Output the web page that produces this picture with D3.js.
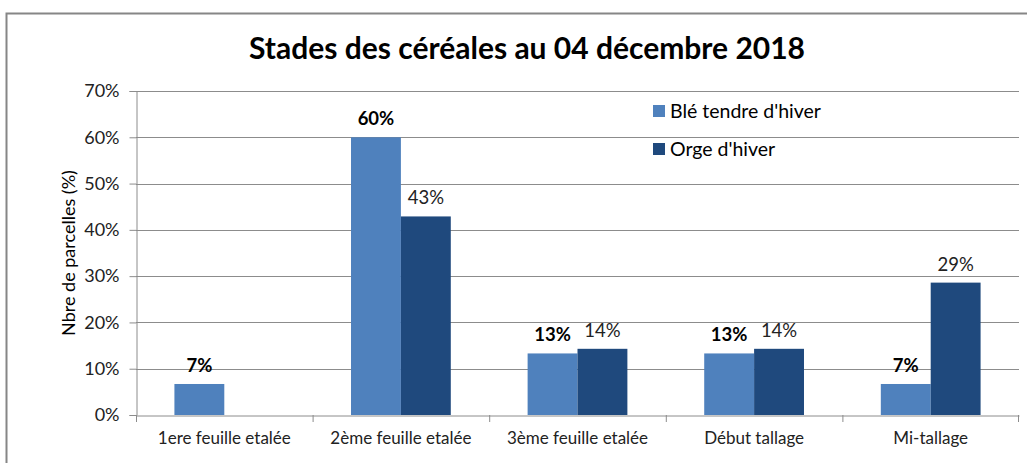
<!DOCTYPE html>
<html>
<head>
<meta charset="utf-8">
<script src="https://cdn.jsdelivr.net/npm/d3@7"></script>
<style>
  body { margin: 0; background: #fff; }
  svg { display: block; font-family: Lato, "Open Sans", sans-serif; }
</style>
</head>
<body>
<div id="chart"></div>
<script>
// chart values
const categories = ['1ere feuille etalée', '2ème feuille etalée', '3ème feuille etalée', 'Début tallage', 'Mi-tallage'];
const seriesNames = ['Blé tendre d\'hiver', 'Orge d\'hiver'];
const bleValues = [6.7, 60, 13.3, 13.3, 6.7];
const orgeValues = [0, 42.9, 14.3, 14.3, 28.6];
const yTicks = [0, 10, 20, 30, 40, 50, 60, 70];
const colors = ['#4f81bd', '#1f497d'];

const width = 1027, height = 463;
const margin = { top: 91, right: 8, bottom: 48, left: 136 };

const svg = d3.select('#chart').append('svg')
    .attr('width', width)
    .attr('height', height);

// outer chart border (cut at the right and bottom like the screenshot)
svg.append('rect')
    .attr('x', 6.5).attr('y', 13.5)
    .attr('width', 1040).attr('height', 470)
    .attr('fill', 'none')
    .attr('stroke', '#868686')
    .attr('stroke-width', 2);

const x = d3.scaleBand()
    .domain(categories)
    .range([margin.left, width - margin.right]);

const x1 = d3.scaleBand()
    .domain(seriesNames)
    .range([0, x.bandwidth()])
    .paddingOuter(0.77);

const y = d3.scaleLinear()
    .domain([0, 70])
    .range([height - margin.bottom, margin.top]);

// gridlines
svg.append('g')
    .selectAll('line')
    .data(yTicks.filter(d => d > 0))
    .enter().append('line')
    .attr('x1', margin.left).attr('x2', width - margin.right)
    .attr('y1', d => Math.round(y(d)) + 0.5).attr('y2', d => Math.round(y(d)) + 0.5)
    .attr('stroke', '#8c8c8c')
    .attr('stroke-width', 1);

// y axis
const yAxis = svg.append('g')
    .attr('transform', `translate(${margin.left + 0.5},0)`)
    .call(d3.axisLeft(y).tickValues(yTicks).tickFormat(d => d + '%').tickSize(7).tickPadding(10));
yAxis.select('.domain').attr('stroke', '#8c8c8c');
yAxis.selectAll('.tick line').attr('stroke', '#8c8c8c');
yAxis.selectAll('text')
    .attr('font-size', '18px')
    .attr('font-family', 'Lato, "Open Sans", sans-serif')
    .attr('fill', '#222');

// bars
const series = [bleValues, orgeValues];
const groups = svg.append('g')
    .selectAll('g')
    .data(categories)
    .enter().append('g')
    .attr('transform', d => `translate(${x(d)},0)`);

groups.selectAll('rect')
    .data((d, i) => seriesNames.map((s, k) => ({ s, k, v: series[k][i] })))
    .enter().append('rect')
    .filter(d => d.v > 0)
    .attr('x', d => x1(d.s))
    .attr('y', d => y(d.v))
    .attr('width', x1.bandwidth())
    .attr('height', d => y(0) - y(d.v))
    .attr('fill', d => colors[d.k]);

// data labels
groups.selectAll('text')
    .data((d, i) => seriesNames.map((s, k) => ({ s, k, v: series[k][i] })).filter(d => d.v > 0))
    .enter().append('text')
    .attr('x', d => x1(d.s) + x1.bandwidth() / 2)
    .attr('y', d => y(d.v) - 12)
    .attr('text-anchor', 'middle')
    .attr('font-size', '18.5px')
    .attr('font-weight', d => d.k === 0 ? 'bold' : 'normal')
    .attr('fill', d => d.k === 0 ? '#000' : '#222')
    .text(d => Math.round(d.v) + '%');

// x axis
const xAxis = svg.append('g')
    .attr('transform', `translate(0,${y(0) + 0.5})`)
    .call(d3.axisBottom(x).tickSize(0).tickPadding(16));
xAxis.select('.domain').attr('stroke', '#8c8c8c');
xAxis.selectAll('text')
    .attr('font-size', '17px')
    .attr('font-family', 'Lato, "Open Sans", sans-serif')
    .attr('fill', '#222');
// category separators
svg.append('g')
    .selectAll('line')
    .data(categories.concat(['end']))
    .enter().append('line')
    .attr('x1', (d, i) => i < categories.length ? x(d) + 0.5 : width - margin.right - 0.5)
    .attr('x2', (d, i) => i < categories.length ? x(d) + 0.5 : width - margin.right - 0.5)
    .attr('y1', y(0)).attr('y2', y(0) + 7)
    .attr('stroke', '#8c8c8c');

// axis title
svg.append('text')
    .attr('transform', `translate(75,${(y(0) + y(70)) / 2}) rotate(-90)`)
    .attr('text-anchor', 'middle')
    .attr('font-size', '18px')
    .attr('fill', '#000')
    .text('Nbre de parcelles (%)');

// title
svg.append('text')
    .attr('x', 527)
    .attr('y', 59)
    .attr('text-anchor', 'middle')
    .attr('font-size', '30px')
    .attr('font-weight', 'bold')
    .attr('fill', '#000')
    .text('Stades des céréales au 04 décembre 2018');

// legend
const legend = svg.append('g')
    .selectAll('g')
    .data(seriesNames)
    .enter().append('g')
    .attr('transform', (d, i) => `translate(653,${105 + i * 38})`);
legend.append('rect')
    .attr('width', 12).attr('height', 12)
    .attr('fill', (d, i) => colors[i]);
legend.append('text')
    .attr('x', 17).attr('y', 13)
    .attr('font-size', '19.5px')
    .attr('fill', '#000')
    .text(d => d);
</script>
</body>
</html>
